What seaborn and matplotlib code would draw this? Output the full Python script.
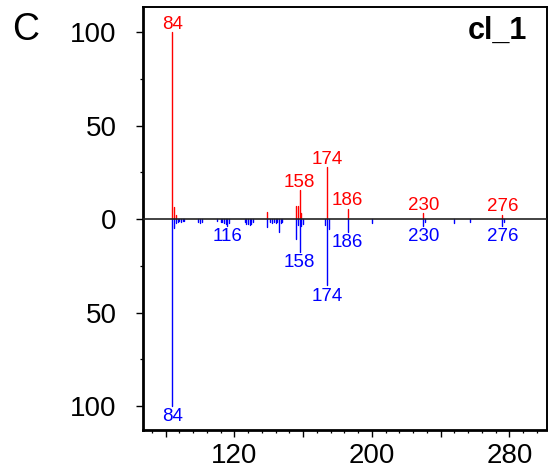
import numpy as np
import pandas as pd
import matplotlib
matplotlib.use("Agg")
import matplotlib.pyplot as plt
from matplotlib.ticker import MultipleLocator, FixedLocator, FuncFormatter
import seaborn as sns

# ---- data ----
top_mz = [84, 85, 86, 139, 156, 157, 158, 159, 174, 186, 230, 276]
top_int = [100, 6.2, 2.0, 3.6, 7.1, 7.0, 15.6, 3.0, 27.6, 5.5, 3.0, 2.3]

bot_mz = [84, 85, 86, 87, 88, 89, 90, 91, 99, 100, 101, 110, 112, 113, 114, 115,
          116, 117, 126, 127, 128, 129, 130, 131, 139, 141, 142, 143, 144, 145,
          146, 147, 148, 156, 157, 158, 159, 160, 173, 174, 175, 186, 200, 230,
          231, 248, 257, 276, 277]
bot_int = [100, 4.6, 2.2, 1.6, 1.3, 1.5, 1.0, 1.2, 1.8, 2.1, 1.5, 1.2, 1.8, 1.5,
           2.0, 2.5, 3.6, 2.0, 1.5, 2.5, 2.8, 3.0, 2.5, 1.8, 4.0, 1.5, 2.0, 1.5,
           2.0, 1.5, 7.1, 2.0, 1.5, 10.7, 3.0, 17.5, 3.8, 2.5, 3.0, 35.5, 5.3,
           6.8, 2.1, 3.6, 1.5, 2.1, 1.8, 3.6, 1.5]

top_labels = [84, 158, 174, 186, 230, 276]
bot_labels = [84, 116, 158, 174, 186, 230, 276]

xticks_major = [80, 120, 160, 200, 240, 280]
xtick_labels = ["", "120", "", "200", "", "280"]
yticks_major = [-100, -50, 0, 50, 100]

RED = "#FF0000"
BLUE = "#0000FF"

sns.set_style("ticks")
plt.rcParams["font.family"] = ["Liberation Sans", "DejaVu Sans"]

def stems(mz, inten, sign):
    rows = []
    for i, (m, v) in enumerate(zip(mz, inten)):
        rows.append({"mz": m, "y": 0.0, "pid": i})
        rows.append({"mz": m, "y": sign * v, "pid": i})
    return pd.DataFrame(rows)

df_top = stems(top_mz, top_int, 1)
df_bot = stems(bot_mz, bot_int, -1)

fig = plt.figure(figsize=(5.48, 4.73), dpi=100)
ax = fig.add_axes([143 / 548, 1 - 430 / 473, (547 - 143) / 548, (430 - 7) / 473])

sns.lineplot(data=df_top, x="mz", y="y", units="pid", estimator=None, sort=False,
             color=RED, lw=1.0, ax=ax, legend=False)
sns.lineplot(data=df_bot, x="mz", y="y", units="pid", estimator=None, sort=False,
             color=BLUE, lw=1.0, ax=ax, legend=False)

ax.axhline(0, color="#222222", lw=1.2, zorder=3)

ax.set_xlim(66.9, 301.9)
ax.set_ylim(-112.8, 113.4)

top_map = dict(zip(top_mz, top_int))
bot_map = dict(zip(bot_mz, bot_int))
for m in top_labels:
    ax.annotate(str(m), (m, top_map[m]), xytext=(0, -0.5), textcoords="offset points",
                ha="center", va="bottom", color=RED, fontsize=13.5)
for m in bot_labels:
    ax.annotate(str(m), (m, -bot_map[m]), xytext=(0, -1.5), textcoords="offset points",
                ha="center", va="top", color=BLUE, fontsize=13.5)

ax.xaxis.set_major_locator(FixedLocator(xticks_major))
ax.set_xticklabels(xtick_labels)
ax.xaxis.set_minor_locator(MultipleLocator(8))
ax.yaxis.set_major_locator(FixedLocator(yticks_major))
ax.yaxis.set_minor_locator(MultipleLocator(25))
ax.yaxis.set_major_formatter(FuncFormatter(lambda v, p: f"{abs(v):g}"))

ax.tick_params(axis="both", which="major", labelsize=20, length=5, width=1.0,
               direction="out", color="black", labelcolor="black")
ax.tick_params(axis="y", which="major", pad=14)
ax.tick_params(axis="x", which="major", pad=4)
ax.tick_params(axis="both", which="minor", length=2.5, width=0.9, color="black")

ax.set_xlabel("")
ax.set_ylabel("")
for side in ["left", "bottom"]:
    ax.spines[side].set_linewidth(2.0)
for side in ["top", "right"]:
    ax.spines[side].set_linewidth(1.4)
for s in ax.spines.values():
    s.set_color("black")

ax.text(0.95, 0.978, "cl_1", transform=ax.transAxes, ha="right", va="top",
        fontsize=22, fontweight="bold", color="black")
fig.text(12.5 / 548, 1 - 12 / 473, "C", ha="left", va="top", fontsize=27, color="black")

fig.savefig("out.png", dpi=100)
